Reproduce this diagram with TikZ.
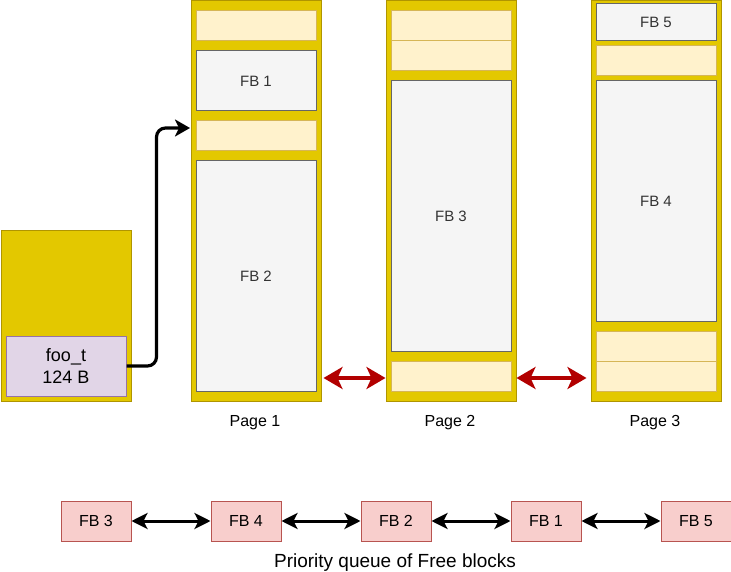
\documentclass[tikz,border=0pt]{standalone}
\usepackage{fontspec}
\setmainfont{Liberation Sans}
\usetikzlibrary{arrows.meta, positioning}
\definecolor{PageFill}{HTML}{E3C800}
\definecolor{PageLine}{HTML}{B09500}
\definecolor{SlotFill}{HTML}{FFF2CC}
\definecolor{SlotLine}{HTML}{D6B656}
\definecolor{FreeFill}{HTML}{F5F5F5}
\definecolor{FreeLine}{HTML}{666666}
\definecolor{FreeText}{HTML}{333333}
\definecolor{ObjFill}{HTML}{E1D5E7}
\definecolor{ObjLine}{HTML}{9673A6}
\definecolor{QueueFill}{HTML}{F8CECC}
\definecolor{QueueLine}{HTML}{B85450}
\definecolor{LinkRed}{HTML}{B20000}
\begin{document}
\begin{tikzpicture}[x=1pt, y=-1pt,
  page/.style={draw=PageLine, fill=PageFill, line width=1pt, anchor=north west, inner sep=0pt, minimum width=130pt, minimum height=400pt},
  slot/.style={draw=SlotLine, fill=SlotFill, line width=1pt, anchor=north west, inner sep=0pt, minimum width=120pt, minimum height=30pt},
  fb/.style={draw=FreeLine, fill=FreeFill, line width=1pt, anchor=north west, inner sep=0pt, minimum width=120pt, text=FreeText, font=\fontsize{15}{18}\selectfont},
  obj/.style={draw=ObjLine, fill=ObjFill, line width=1pt, anchor=north west, inner sep=0pt, minimum width=120pt, minimum height=60pt, align=center, font=\fontsize{18}{22}\selectfont},
  qfb/.style={draw=QueueLine, fill=QueueFill, line width=1pt, anchor=north west, inner sep=0pt, minimum width=70pt, minimum height=40pt, font=\fontsize{16}{19}\selectfont},
  plab/.style={font=\fontsize{16}{19}\selectfont},
  link/.style={-{Stealth[length=15pt, width=17pt, inset=4pt]}, line width=3.2pt, rounded corners=9pt},
  parr/.style={{Stealth[length=19pt, width=22pt, inset=5pt]}-{Stealth[length=19pt, width=22pt, inset=5pt]}, LinkRed, line width=3.2pt},
  qarr/.style={{Stealth[length=16pt, width=16pt, inset=4pt]}-{Stealth[length=16pt, width=16pt, inset=4pt]}, line width=3pt}]
\useasboundingbox (0,0) rectangle (731,572);
% object waiting for a slot
\node[page, minimum height=170pt] (src) at (0.5,230.5) {};
\node[obj] (foo) at (5.5,335.5) {foo\_t\\124 B};
% page 1
\node[page] (p1) at (190.5,0.5) {};
\node[slot] (p1s1) at (195.5,10.5) {};
\node[fb, minimum height=60pt] (p1f1) at (195.5,50.5) {FB 1};
\node[slot] (p1s2) at (195.5,120.5) {};
\node[fb, minimum height=230pt] (p1f2) at (195.5,160.5) {FB 2};
% page 2
\node[page] (p2) at (385.5,0.5) {};
\node[slot] (p2s1) at (390.5,10.5) {};
\node[slot] (p2s2) at (390.5,40.5) {};
\node[fb, minimum height=270pt] (p2f3) at (390.5,80.5) {FB 3};
\node[slot] (p2s3) at (390.5,360.5) {};
% page 3
\node[page] (p3) at (590.5,0.5) {};
\node[fb, minimum height=37pt] (p3f5) at (595.5,3) {FB 5};
\node[slot] (p3s1) at (595.5,45.5) {};
\node[fb, minimum height=240pt] (p3f4) at (595.5,80.5) {FB 4};
\node[slot] (p3s2) at (595.5,330.5) {};
\node[slot] (p3s3) at (595.5,360.5) {};
\node[plab] (l1) at (255,423) {Page 1};
\node[plab] (l2) at (450,423) {Page 2};
\node[plab] (l3) at (655,423) {Page 3};
% page list
\coordinate (hook) at (190,128);
\draw[link] (foo.east) -- ++(30,0) |- (hook);
\draw[parr, shorten <=2pt] (p1.east |- 0,378) -- (p2.west |- 0,378);
\draw[parr, shorten >=4pt] (p2.east |- 0,378) -- (p3.west |- 0,378);
% priority queue
\node[qfb] (q3) at (60.5,500.5) {FB 3};
\node[qfb] (q4) at (210.5,500.5) {FB 4};
\node[qfb] (q2) at (360.5,500.5) {FB 2};
\node[qfb] (q1) at (510.5,500.5) {FB 1};
\node[qfb] (q5) at (660.5,500.5) {FB 5};
\draw[qarr] (q3) -- (q4); \draw[qarr] (q4) -- (q2); \draw[qarr] (q2) -- (q1); \draw[qarr] (q1) -- (q5);
\node[font=\fontsize{19}{23}\selectfont] (qlab) at (395,563) {Priority queue of Free blocks};
\end{tikzpicture}
\end{document}
